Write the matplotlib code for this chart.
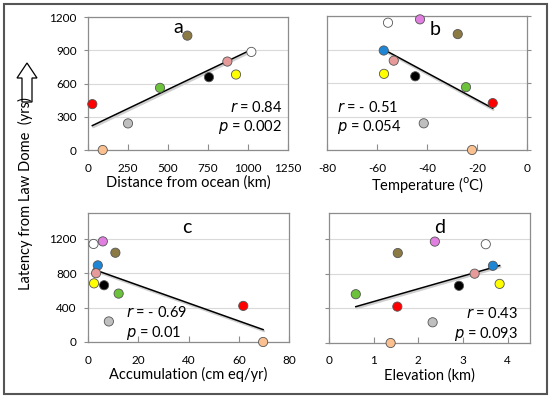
import numpy as np
import matplotlib.pyplot as plt
from matplotlib.patches import Polygon, Rectangle

plt.rcParams['font.family'] = ['Lato', 'DejaVu Sans']
plt.rcParams['axes.unicode_minus'] = False

# site colours (same order in every panel)
colors_all = ['#ffffff', '#e07fe0', '#8c7a45', '#1f86d6', '#e69a99', '#ffff00',
              '#000000', '#6cc23a', '#ff0000', '#bfbfbf', '#fac08f']
latency_all = [1140, 1170, 1038, 891, 800, 682, 660, 563, 420, 239, 0]

# panel a (only 9 sites shown)
dist_colors = ['#ff0000', '#fac08f', '#bfbfbf', '#6cc23a', '#8c7a45', '#000000',
               '#e69a99', '#ffff00', '#ffffff']
dist_km = [27, 92, 250, 450, 621, 756, 871, 925, 1021]
dist_latency = [414, 0, 240, 561, 1032, 657, 798, 681, 885]

temp_c = [-55.6, -42.8, -27.7, -57.3, -53.3, -57.2, -44.7, -24.4, -13.7, -41.3, -22.0]
accum_cm = [2.2, 5.9, 10.9, 3.9, 3.2, 2.4, 6.4, 12.2, 61.8, 8.3, 69.7]
elev_km = [3.51, 2.37, 1.54, 3.67, 3.26, 3.82, 2.91, 0.60, 1.53, 2.32, 1.38]

stats = {'a': ('r = 0.84', 'p = 0.002'), 'b': ('r = - 0.51', 'p = 0.054'),
         'c': ('r = - 0.69', 'p = 0.01'), 'd': ('r = 0.43', 'p = 0.093')}

fig = plt.figure(figsize=(5.5, 3.97), dpi=100)
W, H = 550, 397


def make_ax(l, t, r, b):
    return fig.add_axes([l / W, 1 - b / H, (r - l) / W, (b - t) / H])


def style(ax, xlim, xticks, ylim, yticks, show_y, xlabel, yright=False):
    ax.set_xlim(*xlim)
    ax.set_ylim(*ylim)
    ax.set_xticks(xticks)
    ax.set_yticks(yticks)
    ax.grid(axis='y', color='#d9d9d9', lw=0.8)
    ax.set_axisbelow(True)
    for s in ax.spines.values():
        s.set_color('#8c8c8c')
        s.set_linewidth(0.9)
    ax.tick_params(axis='x', direction='in', length=4, color='#8c8c8c',
                   pad=9, labelsize=8.5)
    ax.tick_params(axis='y', direction='out', length=3, color='#8c8c8c',
                   pad=5, labelsize=8.5, labelleft=show_y,
                   left=not yright, right=yright)
    ax.set_xlabel(xlabel, fontsize=10.5, labelpad=1)


def points(ax, x, y, cols):
    ax.scatter(x, y, s=44, c=cols, edgecolors='#555555', linewidths=0.6,
               zorder=4, clip_on=False)
    k, b0 = np.polyfit(x, y, 1)
    xs = np.array([min(x), max(x)])
    ax.plot(xs + (xs[1] - xs[0]) * 0.006, k * xs + b0 - (ax.get_ylim()[1]) * 0.012,
            color='#cfcfcf', lw=1.6, zorder=2, solid_capstyle='round')
    ax.plot(xs, k * xs + b0, color='black', lw=1.1, zorder=3)


def stat_text(ax, key, x, y1, y2, ha):
    r, p = stats[key]
    for txt, yy in ((r, y1), (p, y2)):
        ax.text(x, yy, '$\\it{' + txt[0] + '}$' + txt[1:], transform=ax.transAxes,
                ha=ha, va='center', fontsize=10.5)


# a
ax = make_ax(88, 17, 288, 150)
style(ax, (0, 1250), range(0, 1251, 250), (0, 1200), range(0, 1201, 300), True,
      'Distance from ocean (km)')
points(ax, np.array(dist_km), np.array(dist_latency), dist_colors)
ax.text(0.45, 0.92, 'a', transform=ax.transAxes, fontsize=14, ha='center', va='center')
stat_text(ax, 'a', 0.97, 0.32, 0.17, 'right')

# b
ax = make_ax(327, 16, 527, 150)
style(ax, (-80, 0), range(-80, 1, 20), (0, 1200), range(0, 1201, 300), False,
      'Temperature (\u00b0C)', yright=True)
ax.set_xlabel('Temperature ($^{\\mathrm{o}}$C)', fontsize=10.5, labelpad=1)
points(ax, np.array(temp_c), np.array(latency_all), colors_all)
ax.text(0.54, 0.90, 'b', transform=ax.transAxes, fontsize=14, ha='center', va='center')
stat_text(ax, 'b', 0.05, 0.32, 0.17, 'left')

# c
ax = make_ax(88, 213, 289, 342)
style(ax, (0, 80), range(0, 81, 20), (0, 1500), range(0, 1201, 400), True,
      'Accumulation (cm eq/yr)')
points(ax, np.array(accum_cm), np.array(latency_all), colors_all)
ax.text(0.49, 0.89, 'c', transform=ax.transAxes, fontsize=14, ha='center', va='center')
stat_text(ax, 'c', 0.19, 0.225, 0.07, 'left')

# d
ax = make_ax(329, 213, 530, 343)
style(ax, (0, 4.5), range(0, 5), (0, 1500), range(0, 1201, 400), False,
      'Elevation (km)')
points(ax, np.array(elev_km), np.array(latency_all), colors_all)
ax.text(0.55, 0.89, 'd', transform=ax.transAxes, fontsize=14, ha='center', va='center')
stat_text(ax, 'd', 0.94, 0.225, 0.07, 'right')

# shared y label with hollow up arrow
fig.text(25 / W, 1 - 194 / H, 'Latency from Law Dome  (yrs)', rotation=90,
         ha='center', va='center', fontsize=10.5)
arrow_px = [(22, 102), (22, 78), (17, 78), (27, 63), (37, 78), (32, 78), (32, 102)]
fig.patches.append(Polygon([(x / W, 1 - y / H) for x, y in arrow_px], closed=True,
                           transform=fig.transFigure, facecolor='white',
                           edgecolor='black', lw=0.9))
fig.patches.append(Rectangle((3.5 / W, 3.5 / H), 543 / W, 390 / H,
                             transform=fig.transFigure, fill=False,
                             edgecolor='#555555', lw=1.5))

fig.savefig('out.png', dpi=100)
